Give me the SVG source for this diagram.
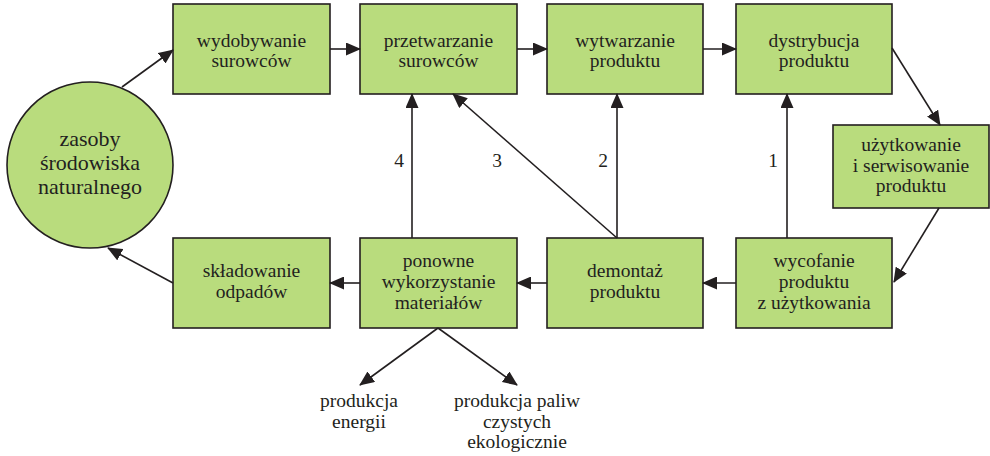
<svg xmlns="http://www.w3.org/2000/svg" width="990" height="456" viewBox="0 0 990 456">
  <defs>
    <marker id="arrow" markerUnits="userSpaceOnUse" markerWidth="15" markerHeight="13" refX="14" refY="6.5" orient="auto">
      <path d="M0,0 L15,6.5 L0,13 Z" fill="#231f20"/>
    </marker>
    <style>
      .node rect, .node circle { fill: #b9dc7d; stroke: #231f20; stroke-width: 1.6; }
      text { font-family: "Liberation Serif", "Times New Roman", serif; font-size: 19.5px; fill: #231f20; text-anchor: middle; }
      .big { font-size: 22px; }
      .edges line { stroke: #231f20; stroke-width: 1.6; marker-end: url(#arrow); }
      .edges line.plain { marker-end: none; }
    </style>
  </defs>

  <!-- nodes -->
  <g id="zasoby" class="node">
    <circle cx="90" cy="165" r="83"/>
    <text class="big" x="90" y="146">zasoby</text>
    <text class="big" x="90" y="170">środowiska</text>
    <text class="big" x="90" y="194">naturalnego</text>
  </g>
  <g id="wydobywanie" class="node">
    <rect x="173" y="4" width="157" height="90"/>
    <text x="251.5" y="47">wydobywanie</text>
    <text x="251.5" y="67">surowców</text>
  </g>
  <g id="przetwarzanie" class="node">
    <rect x="360" y="4" width="157" height="90"/>
    <text x="438.5" y="47">przetwarzanie</text>
    <text x="438.5" y="67">surowców</text>
  </g>
  <g id="wytwarzanie" class="node">
    <rect x="547" y="4" width="156" height="90"/>
    <text x="625" y="47">wytwarzanie</text>
    <text x="625" y="67">produktu</text>
  </g>
  <g id="dystrybucja" class="node">
    <rect x="736" y="4" width="156" height="90"/>
    <text x="814" y="47">dystrybucja</text>
    <text x="814" y="67">produktu</text>
  </g>
  <g id="uzytkowanie" class="node">
    <rect x="833" y="125" width="156" height="83"/>
    <text x="911" y="151">użytkowanie</text>
    <text x="911" y="172">i serwisowanie</text>
    <text x="911" y="192">produktu</text>
  </g>
  <g id="wycofanie" class="node">
    <rect x="736" y="238" width="156" height="90"/>
    <text x="814" y="267">wycofanie</text>
    <text x="814" y="288">produktu</text>
    <text x="814" y="309">z użytkowania</text>
  </g>
  <g id="demontaz" class="node">
    <rect x="547" y="238" width="156" height="90"/>
    <text x="625" y="277">demontaż</text>
    <text x="625" y="298">produktu</text>
  </g>
  <g id="ponowne" class="node">
    <rect x="360" y="238" width="157" height="90"/>
    <text x="438.5" y="267">ponowne</text>
    <text x="438.5" y="288">wykorzystanie</text>
    <text x="438.5" y="309">materiałów</text>
  </g>
  <g id="skladowanie" class="node">
    <rect x="173" y="238" width="157" height="90"/>
    <text x="251.5" y="277">składowanie</text>
    <text x="251.5" y="298">odpadów</text>
  </g>
  <g id="energia">
    <text x="359" y="407">produkcja</text>
    <text x="359" y="428">energii</text>
  </g>
  <g id="paliwa">
    <text x="517" y="407">produkcja paliw</text>
    <text x="517" y="428">czystych</text>
    <text x="517" y="448">ekologicznie</text>
  </g>

  <!-- connectors -->
  <g class="edges">
    <line x1="122" y1="87" x2="173" y2="50"/>
    <line x1="330" y1="49" x2="360" y2="49"/>
    <line x1="517" y1="49" x2="547" y2="49"/>
    <line x1="703" y1="49" x2="736" y2="49"/>
    <line x1="892" y1="48" x2="940" y2="125"/>
    <line x1="939" y1="208" x2="894" y2="282"/>
    <line x1="736" y1="283" x2="703" y2="283"/>
    <line x1="547" y1="283" x2="517" y2="283"/>
    <line x1="360" y1="283" x2="330" y2="283"/>
    <line x1="173" y1="283" x2="108" y2="248"/>
    <line x1="787" y1="238" x2="787" y2="94"/>
    <line x1="617" y1="238" x2="617" y2="94"/>
    <line x1="617" y1="238" x2="453" y2="94"/>
    <line x1="412" y1="238" x2="412" y2="94"/>
    <line x1="438" y1="328" x2="360" y2="385"/>
    <line x1="438" y1="328" x2="517" y2="385"/>
  </g>

  <!-- path labels -->
  <g id="labels">
    <text x="399" y="167">4</text>
    <text x="497" y="167">3</text>
    <text x="603" y="167">2</text>
    <text x="773" y="167">1</text>
  </g>
</svg>
